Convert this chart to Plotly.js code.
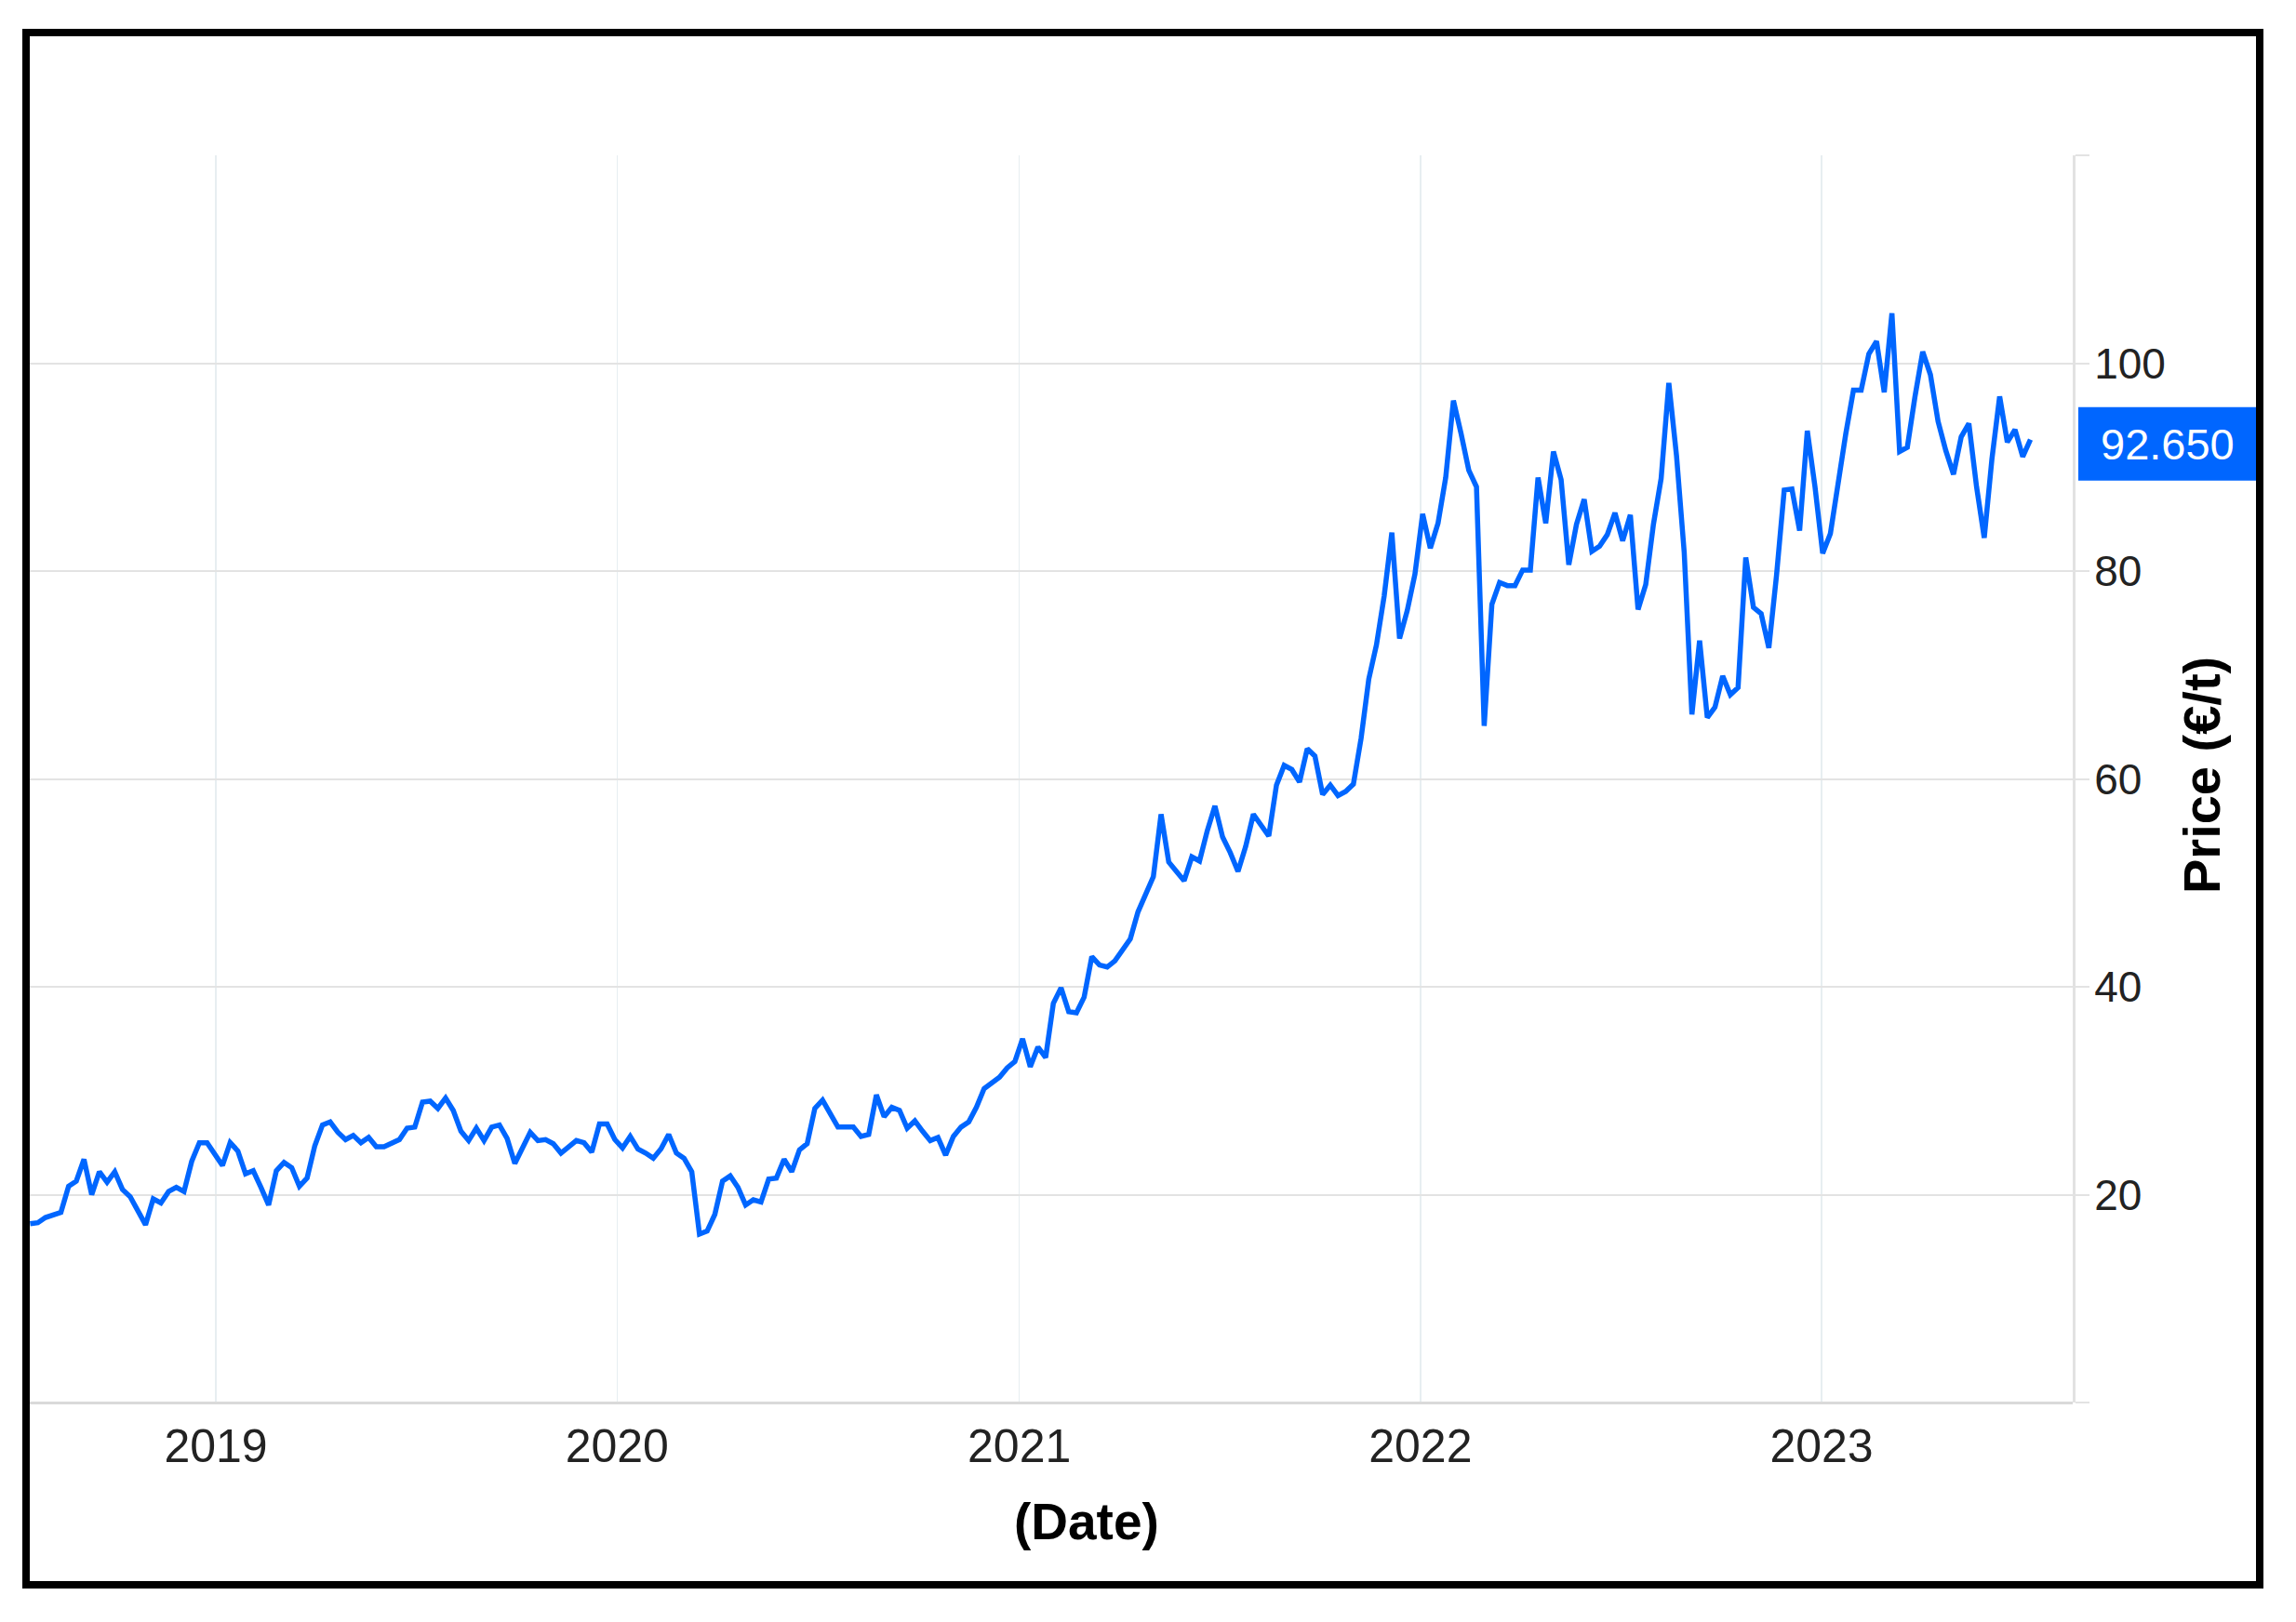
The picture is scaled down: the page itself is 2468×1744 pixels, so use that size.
<!DOCTYPE html>
<html>
<head>
<meta charset="utf-8">
<script src="https://cdn.plot.ly/plotly-3.0.1.min.js"></script>
<style>
html,body{margin:0;padding:0;background:#ffffff;}
#chart{position:absolute;left:0;top:0;width:2468px;height:1744px;}
#frame{position:absolute;left:24px;top:31px;width:2409px;height:1677px;border:8px solid #000;box-sizing:border-box;pointer-events:none;}
</style>
</head>
<body>
<div id="chart"></div>
<div id="frame"></div>
<script>
// ---- Data (weekly prices, €/t) ----
const dates2018 = ['2018-07-16','2018-07-23','2018-07-30','2018-08-06','2018-08-13','2018-08-20','2018-08-27',
  '2018-09-03','2018-09-10','2018-09-17','2018-09-24','2018-10-01','2018-10-08','2018-10-15','2018-10-22','2018-10-29',
  '2018-11-05','2018-11-12','2018-11-19','2018-11-26','2018-12-03','2018-12-10','2018-12-17','2018-12-24','2018-12-31'];
const price2018 = [17.2,17.3,17.8,18.0,18.3,20.8,21.3,23.4,20.0,22.2,21.2,22.2,20.5,19.8,18.5,17.1,19.6,19.2,20.3,20.7,
  20.3,23.2,25.0,25.0,23.9];

const dates2019 = ['2019-01-07','2019-01-14','2019-01-21','2019-01-28','2019-02-04','2019-02-11','2019-02-18','2019-02-25',
  '2019-03-04','2019-03-11','2019-03-18','2019-03-25','2019-04-01','2019-04-08','2019-04-15','2019-04-22','2019-04-29',
  '2019-05-06','2019-05-13','2019-05-20','2019-05-27','2019-06-03','2019-06-10','2019-06-17','2019-06-24',
  '2019-07-01','2019-07-08','2019-07-15','2019-07-22','2019-07-29','2019-08-05','2019-08-12','2019-08-19','2019-08-26',
  '2019-09-02','2019-09-09','2019-09-16','2019-09-23','2019-09-30','2019-10-07','2019-10-14','2019-10-21','2019-10-28',
  '2019-11-04','2019-11-11','2019-11-18','2019-11-25','2019-12-02','2019-12-09','2019-12-16','2019-12-23','2019-12-30'];
const price2019 = [22.8,25.0,24.2,22.0,22.3,20.7,19.0,22.3,23.1,22.6,20.8,21.6,24.7,26.7,27.0,26.0,25.3,25.7,25.0,25.5,
  24.6,24.6,25.0,25.3,26.4,26.5,28.9,29.0,28.3,29.3,28.1,26.1,25.2,26.4,25.2,26.5,26.7,25.4,23.0,24.6,
  26.0,25.2,25.3,24.9,24.0,24.6,25.2,25.0,24.1,26.8,26.8,25.3];

const dates2020 = ['2020-01-06','2020-01-13','2020-01-20','2020-01-27','2020-02-03','2020-02-10','2020-02-17','2020-02-24',
  '2020-03-02','2020-03-09','2020-03-16','2020-03-23','2020-03-30','2020-04-06','2020-04-13','2020-04-20','2020-04-27',
  '2020-05-04','2020-05-11','2020-05-18','2020-05-25','2020-06-01','2020-06-08','2020-06-15','2020-06-22','2020-06-29',
  '2020-07-06','2020-07-13','2020-07-20','2020-07-27','2020-08-03','2020-08-10','2020-08-17','2020-08-24','2020-08-31',
  '2020-09-07','2020-09-14','2020-09-21','2020-09-28','2020-10-05','2020-10-12','2020-10-19','2020-10-26',
  '2020-11-02','2020-11-09','2020-11-16','2020-11-23','2020-11-30','2020-12-07','2020-12-14','2020-12-21','2020-12-28'];
const price2020 = [24.5,25.6,24.4,24.0,23.5,24.4,25.8,24.0,23.5,22.2,16.2,16.5,18.1,21.3,21.8,20.7,19.0,19.5,19.3,21.5,
  21.6,23.4,22.2,24.3,24.9,28.3,29.1,27.8,26.5,26.5,26.5,25.6,25.8,29.6,27.5,28.4,28.1,26.4,27.1,26.1,
  25.2,25.5,23.8,25.6,26.5,27.0,28.4,30.2,30.7,31.3,32.2,32.8];

const dates2021 = ['2021-01-04','2021-01-11','2021-01-18','2021-01-25','2021-02-01','2021-02-08','2021-02-15','2021-02-22',
  '2021-03-01','2021-03-08','2021-03-15','2021-03-22','2021-03-29','2021-04-05','2021-04-12','2021-04-19','2021-04-26',
  '2021-05-03','2021-05-10','2021-05-17','2021-05-24','2021-05-31','2021-06-07','2021-06-14','2021-06-21','2021-06-28',
  '2021-07-05','2021-07-12','2021-07-19','2021-07-26','2021-08-02','2021-08-09','2021-08-16','2021-08-23','2021-08-30',
  '2021-09-06','2021-09-13','2021-09-20','2021-09-27','2021-10-04','2021-10-11','2021-10-18','2021-10-25',
  '2021-11-01','2021-11-08','2021-11-15','2021-11-22','2021-11-29','2021-12-06','2021-12-13','2021-12-20','2021-12-27'];
const price2021 = [35.0,32.3,34.2,33.2,38.4,39.9,37.6,37.5,39.0,42.9,42.1,41.9,42.5,43.6,44.6,47.2,49.0,50.6,56.6,52.0,
  51.1,50.2,52.5,52.1,55.0,57.4,54.4,52.9,51.1,53.5,56.6,55.5,54.5,59.4,61.3,60.9,59.7,62.9,62.2,58.5,
  59.4,58.4,58.8,59.5,63.9,69.6,72.9,77.6,83.7,73.5,76.2,79.7];

const dates2022 = ['2022-01-03','2022-01-10','2022-01-17','2022-01-24','2022-01-31','2022-02-07','2022-02-14','2022-02-21',
  '2022-02-28','2022-03-07','2022-03-14','2022-03-21','2022-03-28','2022-04-04','2022-04-11','2022-04-18','2022-04-25',
  '2022-05-02','2022-05-09','2022-05-16','2022-05-23','2022-05-30','2022-06-06','2022-06-13','2022-06-20','2022-06-27',
  '2022-07-04','2022-07-11','2022-07-18','2022-07-25','2022-08-01','2022-08-08','2022-08-15','2022-08-22','2022-08-29',
  '2022-09-05','2022-09-12','2022-09-19','2022-09-26','2022-10-03','2022-10-10','2022-10-17','2022-10-24','2022-10-31',
  '2022-11-07','2022-11-14','2022-11-21','2022-11-28','2022-12-05','2022-12-12','2022-12-19','2022-12-26'];
const price2022 = [85.5,82.2,84.6,89.0,96.4,93.2,89.7,88.1,65.1,76.8,78.9,78.6,78.6,80.1,80.1,89.0,84.6,91.5,88.8,80.6,
  84.5,86.9,81.9,82.4,83.5,85.6,82.9,85.4,76.3,78.7,84.5,88.9,98.1,91.1,81.8,66.2,73.3,65.9,66.9,69.9,
  68.1,68.8,81.3,76.5,75.9,72.6,79.6,87.8,87.9,83.9,93.5,88.1];

const dates2023 = ['2023-01-02','2023-01-09','2023-01-16','2023-01-23','2023-01-30','2023-02-06','2023-02-13','2023-02-20',
  '2023-02-27','2023-03-06','2023-03-13','2023-03-20','2023-03-27','2023-04-03','2023-04-10','2023-04-17','2023-04-24',
  '2023-05-01','2023-05-08','2023-05-15','2023-05-22','2023-05-29','2023-06-05','2023-06-12','2023-06-19','2023-06-26',
  '2023-07-03','2023-07-10'];
const price2023 = [81.7,83.6,88.8,93.2,97.4,97.4,100.9,102.1,97.2,104.8,91.5,91.9,96.8,101.1,98.9,94.4,91.6,89.3,92.9,94.2,
  88.1,83.2,90.8,96.8,92.4,93.6,91.0,92.65];

const yearTickDates = ['2019-01-01','2020-01-01','2021-01-01','2022-01-01','2023-01-01'];
const yearTickLabels = ['2019','2020','2021','2022','2023'];
const priceTickVals = [0,20,40,60,80,100,120];
const priceTickLabels = ['','20','40','60','80','100',''];
const xTitle = '(Date)';
const yTitle = 'Price (€/t)';

// ---- Build ----
const dates = [].concat(dates2018,dates2019,dates2020,dates2021,dates2022,dates2023);
const prices = [].concat(price2018,price2019,price2020,price2021,price2022,price2023);
const lastPrice = prices[prices.length-1];

const W = 2468, H = 1744;
const M = {l:32, r:240, t:167, b:236};
const plotW = W - M.l - M.r, plotH = H - M.t - M.b;
const px = x => (x - M.l) / plotW;      // page pixel -> paper x
const py = y => (H - M.b - y) / plotH;  // page pixel -> paper y

const BLUE = '#0066ff';
const FONT = '"Liberation Sans", Arial, Helvetica, sans-serif';

const trace = {
  type:'scatter', mode:'lines', x:dates, y:prices,
  line:{color:BLUE, width:5.5, shape:'linear'},
  hoverinfo:'skip', showlegend:false
};

const layout = {
  width:W, height:H,
  margin:{l:M.l, r:M.r, t:M.t, b:M.b, pad:0},
  paper_bgcolor:'#ffffff', plot_bgcolor:'#ffffff',
  showlegend:false,
  font:{family:FONT, color:'#222222'},
  xaxis:{
    type:'date',
    range:['2018-07-15 16:00','2023-08-17 12:00'],
    tickmode:'array', tickvals:yearTickDates, ticktext:yearTickLabels,
    showgrid:true, gridcolor:'#e7eef1', gridwidth:1.5,
    zeroline:false, showline:false,
    ticks:'outside', ticklen:3, tickcolor:'rgba(0,0,0,0)',
    tickfont:{size:50, color:'#222222', family:FONT},
    fixedrange:true
  },
  yaxis:{
    side:'right',
    range:[0,120],
    tickmode:'array', tickvals:priceTickVals, ticktext:priceTickLabels,
    showgrid:true, gridcolor:'#e3e3e3', gridwidth:2,
    zeroline:true, zerolinecolor:'#dadada', zerolinewidth:3,
    showline:true, linecolor:'#e2e2e2', linewidth:3,
    ticks:'outside', ticklen:15, tickwidth:2, tickcolor:'#e3e3e3',
    ticklabelstandoff:-4,
    tickfont:{size:46, color:'#222222', family:FONT},
    fixedrange:true
  },
  shapes:[
    {type:'rect', xref:'paper', yref:'y', x0:px(2234), x1:px(2428),
     ysizemode:'pixel', yanchor:lastPrice, y0:-44, y1:35,
     fillcolor:BLUE, line:{width:0}, layer:'above'}
  ],
  annotations:[
    {text:lastPrice.toFixed(3), xref:'paper', yref:'y', x:px(2330), y:lastPrice,
     xanchor:'center', yanchor:'middle', yshift:-5, showarrow:false,
     font:{size:47, color:'#ffffff', family:FONT}},
    {text:'<b>'+xTitle+'</b>', xref:'paper', yref:'paper', x:px(1168), y:py(1636),
     xanchor:'center', yanchor:'middle', showarrow:false,
     font:{size:55, color:'#000000', family:FONT}},
    {text:'<b>'+yTitle+'</b>', xref:'paper', yref:'paper', x:px(2366), y:py(834),
     xanchor:'center', yanchor:'middle', textangle:-90, showarrow:false,
     font:{size:56, color:'#000000', family:FONT}}
  ]
};

Plotly.newPlot('chart', [trace], layout, {displayModeBar:false, staticPlot:true});
</script>
</body>
</html>
